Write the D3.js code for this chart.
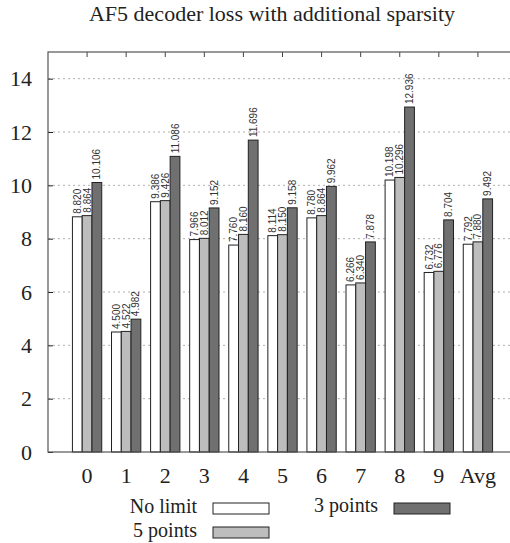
<!DOCTYPE html>
<html>
<head>
<meta charset="utf-8">
<script src="https://cdn.jsdelivr.net/npm/d3@7"></script>
<style>
  body { margin: 0; background: #fff; }
  svg { display: block; }
</style>
</head>
<body>
<div id="chart"></div>
<script>
// data
var categories = ["0", "1", "2", "3", "4", "5", "6", "7", "8", "9", "Avg"];
var seriesNames = ["No limit", "5 points", "3 points"];
var noLimit = [8.820, 4.500, 9.386, 7.966, 7.760, 8.114, 8.780, 6.266, 10.198, 6.732, 7.792];
var fivePoints = [8.864, 4.522, 9.426, 8.012, 8.160, 8.150, 8.864, 6.340, 10.296, 6.776, 7.880];
var threePoints = [10.106, 4.982, 11.086, 9.152, 11.696, 9.158, 9.962, 7.878, 12.936, 8.704, 9.492];
var yTicks = [0, 2, 4, 6, 8, 10, 12, 14];

var series = [noLimit, fivePoints, threePoints];
var colors = ["#ffffff", "#bdbdbd", "#707070"];
var serif = "'Liberation Serif', serif";

var svgWidth = 510, svgHeight = 543;
var margin = {top: 52, right: -7, bottom: 91, left: 48};
var width = svgWidth - margin.left - margin.right;
var height = svgHeight - margin.top - margin.bottom;

var svg = d3.select("#chart").append("svg")
    .attr("width", svgWidth)
    .attr("height", svgHeight);

var chartGroup = svg.append("g")
    .attr("transform", `translate(${margin.left}, ${margin.top})`);

// scales: gnuplot-like, categories at 0..10 on a -1..11 axis
var xScale = d3.scaleLinear().domain([-1, 11]).range([0, width]);
var yScale = d3.scaleLinear().domain([0, 15]).range([height, 0]);
var step = xScale(1) - xScale(0);
var barW = step * 0.25;

// grid
chartGroup.selectAll(".grid").data(yTicks.filter(d => d > 0)).enter()
    .append("line")
    .attr("x1", 0).attr("x2", width)
    .attr("y1", d => yScale(d)).attr("y2", d => yScale(d))
    .attr("stroke", "#b0b0b0")
    .attr("stroke-width", 1)
    .attr("stroke-dasharray", "2,3");

// bars
series.forEach(function(vals, s) {
    chartGroup.selectAll(".bar" + s).data(vals).enter()
        .append("rect")
        .attr("x", (d, i) => xScale(i) + (s - 1.5) * barW)
        .attr("y", d => yScale(d))
        .attr("width", barW)
        .attr("height", d => height - yScale(d))
        .attr("fill", colors[s])
        .attr("stroke", "#222")
        .attr("stroke-width", 1);

    chartGroup.selectAll(".lab" + s).data(vals).enter()
        .append("text")
        .attr("transform", (d, i) => `translate(${xScale(i) + (s - 1) * barW + 3.5}, ${yScale(d) - 3}) rotate(-90)`)
        .attr("font-family", "'Liberation Sans', sans-serif")
        .attr("font-size", "10px")
        .attr("fill", "#333")
        .text(d => d3.format(".3f")(d));
});

// y axis
var leftAxis = d3.axisLeft(yScale).tickValues(yTicks).tickSize(-5).tickPadding(16).tickFormat(d3.format("d"));
var yAxisG = chartGroup.append("g").call(leftAxis);
yAxisG.select(".domain").remove();
yAxisG.selectAll("line").attr("stroke", "#222");
yAxisG.selectAll("text")
    .attr("font-family", serif)
    .attr("font-size", "22px")
    .attr("fill", "#222");

// top ticks at category positions
chartGroup.selectAll(".ttick").data(categories).enter()
    .append("line")
    .attr("x1", (d, i) => xScale(i)).attr("x2", (d, i) => xScale(i))
    .attr("y1", 0).attr("y2", 5)
    .attr("stroke", "#444");

// frame
chartGroup.append("rect")
    .attr("x", 0).attr("y", 0)
    .attr("width", width).attr("height", height)
    .attr("fill", "none")
    .attr("stroke", "#555")
    .attr("stroke-width", 1.2);

// x labels
chartGroup.selectAll(".xlab").data(categories).enter()
    .append("text")
    .attr("x", (d, i) => xScale(i))
    .attr("y", height + 31)
    .attr("text-anchor", "middle")
    .attr("font-family", serif)
    .attr("font-size", "22px")
    .attr("fill", "#222")
    .text(d => d);

// title
svg.append("text")
    .attr("x", 272).attr("y", 21)
    .attr("text-anchor", "middle")
    .attr("font-family", serif)
    .attr("font-size", "22px")
    .attr("fill", "#222")
    .text("AF5 decoder loss with additional sparsity");

// legend (text right edge, text baseline, box top)
var legendPos = [{x: 197, y: 513, by: 503}, {x: 197, y: 537, by: 527}, {x: 378, y: 512, by: 503}];
var legend = svg.selectAll(".legend").data(seriesNames).enter()
    .append("g");
legend.append("text")
    .attr("x", (d, i) => legendPos[i].x)
    .attr("y", (d, i) => legendPos[i].y)
    .attr("text-anchor", "end")
    .attr("font-family", serif)
    .attr("font-size", "20px")
    .attr("fill", "#222")
    .text(d => d);
legend.append("rect")
    .attr("x", (d, i) => legendPos[i].x + 16)
    .attr("y", (d, i) => legendPos[i].by)
    .attr("width", 56).attr("height", 11)
    .attr("fill", (d, i) => colors[i])
    .attr("stroke", "#222");
</script>
</body>
</html>
